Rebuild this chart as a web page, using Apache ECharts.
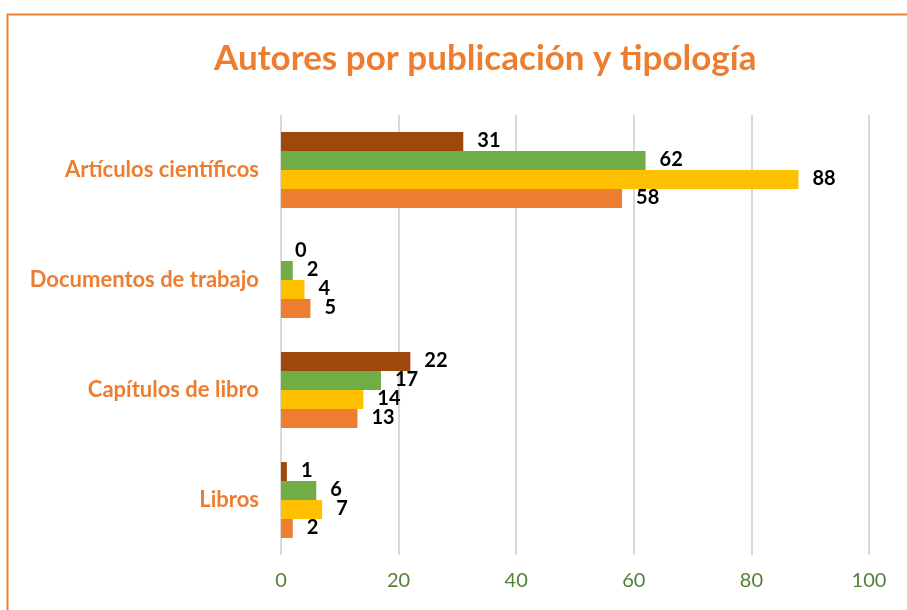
<!DOCTYPE html>
<html>
<head>
<meta charset="utf-8">
<script src="https://cdn.jsdelivr.net/npm/echarts@6/dist/echarts.min.js"></script>
<style>
  html, body { margin: 0; padding: 0; background: #fff; }
  #chart { width: 907px; height: 610px; }
</style>
</head>
<body>
<div id="chart"></div>
<script>
// categories, bottom to top
const categorias = ['Libros', 'Capítulos de libro', 'Documentos de trabajo', 'Artículos científicos'];
// series values per category (same order as categorias)
const serieMarron = [1, 22, 0, 31];
const serieVerde = [6, 17, 2, 62];
const serieAmarilla = [7, 14, 4, 88];
const serieNaranja = [2, 13, 5, 58];
const ticksX = [0, 20, 40, 60, 80, 100];

const fuente = 'Lato, "Open Sans", sans-serif';

function serie(nombre, datos, color) {
  return {
    name: nombre,
    type: 'bar',
    data: datos,
    barGap: '0%',
    barCategoryGap: '31%',
    itemStyle: { color: color },
    label: {
      show: true,
      position: 'right',
      distance: 14,
      offset: [0, -1],
      color: '#000',
      fontFamily: fuente,
      fontWeight: 'bold',
      fontSize: 20
    }
  };
}

const myChart = echarts.init(document.getElementById('chart'));
myChart.setOption({
  backgroundColor: '#fff',
  animation: false,
  title: {
    text: 'Autores por publicación y tipología',
    left: 209,
    top: 36,
    textStyle: { color: '#ED7D31', fontFamily: fuente, fontWeight: 'bold', fontSize: 35 }
  },
  graphic: [{
    type: 'rect',
    shape: { x: 7.5, y: 14.5, width: 1000, height: 1000 },
    style: { fill: 'none', stroke: '#ED7D31', lineWidth: 2 },
    silent: true
  }],
  grid: { left: 281, right: 38, top: 115, bottom: 55 },
  xAxis: {
    type: 'value',
    min: ticksX[0],
    max: ticksX[ticksX.length - 1],
    interval: 20,
    axisLine: { show: false },
    axisTick: { show: false },
    splitLine: { lineStyle: { color: '#D9D9D9', width: 2 } },
    axisLabel: { color: '#548235', fontFamily: fuente, fontSize: 20, margin: 16 }
  },
  yAxis: {
    type: 'category',
    data: categorias,
    axisLine: { show: false },
    axisTick: { show: false },
    axisLabel: { color: '#ED7D31', fontFamily: fuente, fontWeight: 'bold', fontSize: 22, margin: 22 }
  },
  // first series sits at the top of each group
  series: [
    serie('Marrón', serieMarron, '#9E480E'),
    serie('Verde', serieVerde, '#70AD47'),
    serie('Amarilla', serieAmarilla, '#FFC000'),
    serie('Naranja', serieNaranja, '#ED7D31')
  ]
});
</script>
</body>
</html>
